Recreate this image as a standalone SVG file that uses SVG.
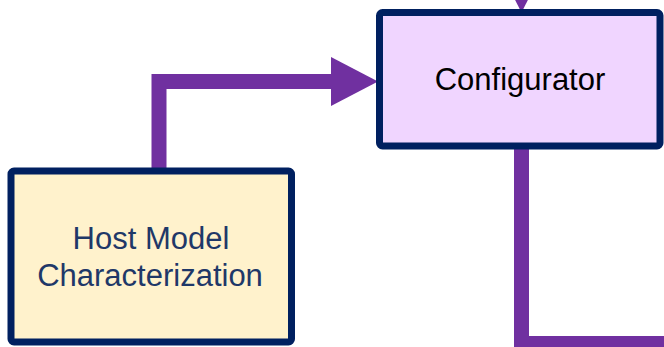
<svg xmlns="http://www.w3.org/2000/svg" width="664" height="347" viewBox="0 0 664 347">
<style>
.box{stroke:#002060;stroke-width:7;}
.lbl{font-family:"Liberation Sans",Arial,sans-serif;font-size:31px;text-anchor:middle;}
.conn{fill:none;stroke:#7030A0;stroke-width:15;}
.head{fill:#7030A0;}
</style>
<rect width="664" height="347" fill="#ffffff"/>
<g id="connectors">
<polyline class="conn" points="159,173 159,81.5 334,81.5"/>
<polygon class="head" points="331,57 378,81.5 331,106"/>
<polygon class="head" points="497.5,-34.5 545.5,-34.5 521.5,12.5"/>
<polyline class="conn" points="521.5,147 521.5,343.5 672,343.5"/>
</g>
<g id="configurator">
<rect class="box" x="379.5" y="12.5" width="280.5" height="133.5" rx="3" fill="#F0D5FF"/>
<text class="lbl" x="520" y="90" fill="#000000">Configurator</text>
</g>
<g id="host-model">
<rect class="box" x="11" y="171" width="280.5" height="171" rx="3" fill="#FFF2CC"/>
<text class="lbl" x="151" y="249" fill="#1F3868">Host Model</text>
<text class="lbl" x="150" y="286" fill="#1F3868">Characterization</text>
</g>
</svg>
